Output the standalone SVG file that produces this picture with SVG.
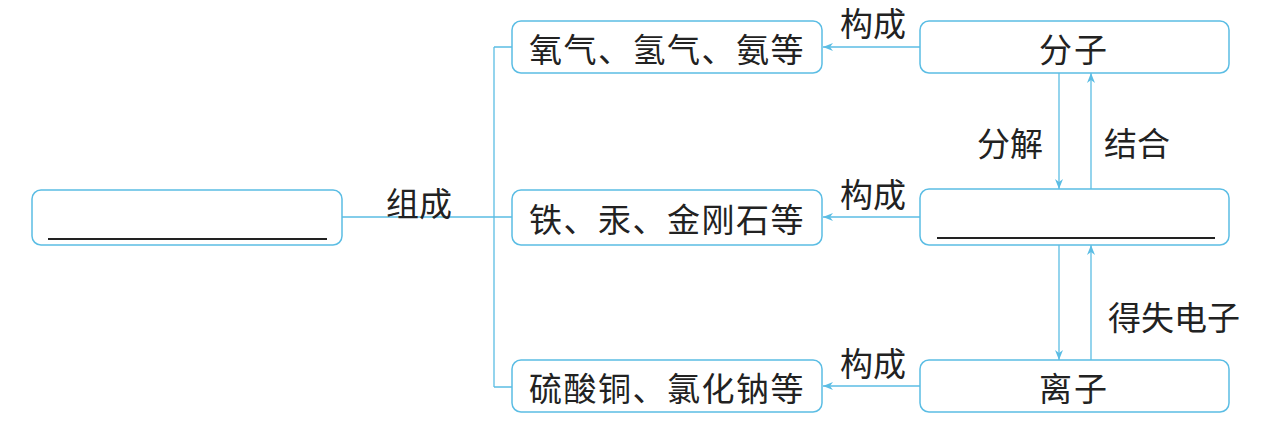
<svg xmlns="http://www.w3.org/2000/svg" width="1270" height="422" viewBox="0 0 1270 422">
<style>
.box{fill:#fff;stroke:#5bbde4;stroke-width:1.5}
.ln{fill:none;stroke:#5bbde4;stroke-width:1.3}
.t{font-family:"Noto Sans CJK SC","Noto Sans",sans-serif;font-size:33px;fill:#222;text-anchor:middle;dominant-baseline:central}
.ul{stroke:#222;stroke-width:2}
</style>
<defs>
<marker id="ah" viewBox="0 0 10 10" refX="10" refY="5" markerWidth="10" markerHeight="10" markerUnits="userSpaceOnUse" orient="auto">
<path d="M0,1 L10,5 L0,9 L3,5 Z" fill="#5bbde4"/>
</marker>
</defs>
<rect width="1270" height="422" fill="#fff"/>
<g id="connectors">
<path class="ln" d="M342,217 H494 M494,47 V387 M494,47 H512 M494,217 H512 M494,387 H512"/>
<path class="ln" d="M920,47 H823" marker-end="url(#ah)"/>
<path class="ln" d="M920,217 H823" marker-end="url(#ah)"/>
<path class="ln" d="M920,386 H823" marker-end="url(#ah)"/>
<path class="ln" d="M1059,73 V189" marker-end="url(#ah)"/>
<path class="ln" d="M1091,189 V73" marker-end="url(#ah)"/>
<path class="ln" d="M1059,245 V360" marker-end="url(#ah)"/>
<path class="ln" d="M1091,360 V245" marker-end="url(#ah)"/>
<text class="t" x="419" y="202">组成</text>
<text class="t" x="873" y="22">构成</text>
<text class="t" x="873" y="193">构成</text>
<text class="t" x="873" y="362">构成</text>
<text class="t" x="1010" y="142">分解</text>
<text class="t" x="1137" y="142">结合</text>
<text class="t" x="1174" y="316">得失电子</text>
</g>
<g id="n-left"><rect class="box" x="32" y="190" width="310" height="55" rx="9"/><line class="ul" x1="48" y1="239" x2="327" y2="239"/></g>
<g id="n-o2"><rect class="box" x="512" y="21" width="310" height="52" rx="9"/><text class="t" x="667" y="48" letter-spacing="1.5">氧气、氢气、氨等</text></g>
<g id="n-fe"><rect class="box" x="512" y="190" width="310" height="55" rx="9"/><text class="t" x="667" y="218" letter-spacing="1.5">铁、汞、金刚石等</text></g>
<g id="n-cu"><rect class="box" x="512" y="360" width="310" height="52" rx="9"/><text class="t" x="667" y="387" letter-spacing="1.5">硫酸铜、氯化钠等</text></g>
<g id="n-fz"><rect class="box" x="920" y="21" width="309" height="52" rx="9"/><text class="t" x="1074" y="48" letter-spacing="2">分子</text></g>
<g id="n-atom"><rect class="box" x="920" y="189" width="309" height="56" rx="9"/><line class="ul" x1="937" y1="238" x2="1215" y2="238"/></g>
<g id="n-lz"><rect class="box" x="920" y="360" width="309" height="52" rx="9"/><text class="t" x="1074" y="387" letter-spacing="2">离子</text></g>
</svg>
